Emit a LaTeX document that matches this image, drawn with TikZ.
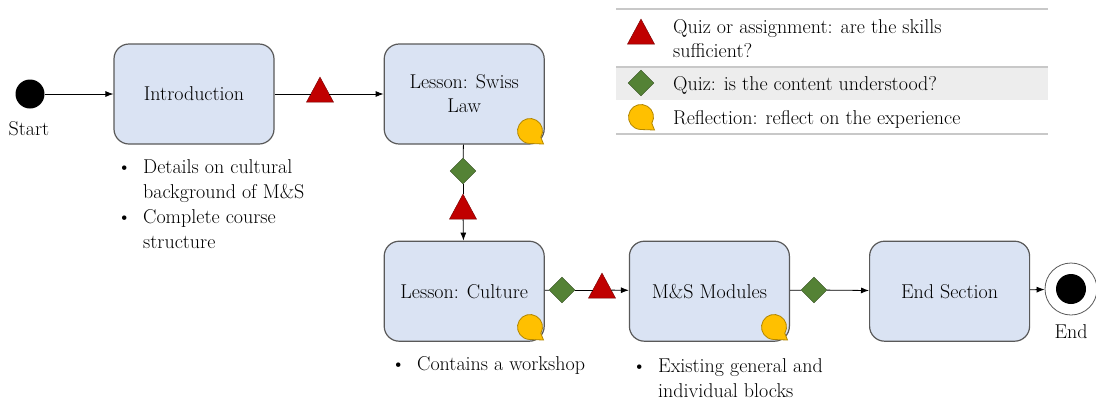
\documentclass[tikz,border=0pt]{standalone}
\usepackage{xcolor}
\usepackage{tikz}
\usetikzlibrary{shapes.geometric, arrows.meta, positioning}

\definecolor{boxblue}{HTML}{DAE3F3}
\definecolor{boxline}{HTML}{595959}
\definecolor{quizred}{HTML}{C00000}
\definecolor{quizgreen}{HTML}{548235}
\definecolor{reflyellow}{HTML}{FFC000}
\definecolor{legline}{HTML}{C8C8C8}
\definecolor{legfill}{HTML}{EDEDED}

\newcommand{\bul}{\makebox[26pt][l]{\textbullet}}

\tikzset{
  block/.style={rectangle, rounded corners=15pt, draw=boxline, line width=1.2pt, fill=boxblue, minimum width=160pt, minimum height=100pt, align=center},
  assign/.style={isosceles triangle, shape border rotate=90, isosceles triangle stretches, draw=quizred!60!black, fill=quizred, minimum width=27pt, minimum height=25pt, inner sep=0pt},
  check/.style={diamond, draw=quizgreen!60!black, fill=quizgreen, minimum width=26pt, minimum height=26pt, inner sep=0pt},
  flow/.style={-{Latex[length=8pt,width=6pt]}, line width=0.8pt},
  plain/.style={line width=0.8pt},
  reflect/.pic={\draw[draw=reflyellow!70!black, fill=reflyellow, line width=0.8pt] (-30:12.5pt) arc[start angle=-30, end angle=268, radius=12.5pt] -- (13.5pt,-13pt) -- cycle;},
  txt/.style={inner sep=0pt}
}

\begin{document}
\begin{tikzpicture}[x=1pt, y=-1pt, font=\fontsize{20}{24}\selectfont]
    \useasboundingbox (0,0) rectangle (1096,400);

    \fill[legfill] (616,67) rectangle (1048,100);
    \draw[legline, line width=1.5pt] (616,9) -- (1048,9);
    \draw[legline, line width=1.5pt] (616,67) -- (1048,67);
    \draw[legline, line width=1.5pt] (616,134) -- (1048,134);
    \node (legtri) [assign] at (641,36) {};
    \node (legdia) [check] at (641,83) {};
    \pic (legrefl) at (641,117) {reflect};
    \node (legtxt1) [txt, anchor=base west] at (673,33) {\begin{tabular}[t]{@{}l@{}}Quiz or assignment: are the skills\\sufficient?\end{tabular}};
    \node (legtxt2) [txt, anchor=base west] at (673,90) {Quiz: is the content understood?};
    \node (legtxt3) [txt, anchor=base west] at (673,124) {Reflection: reflect on the experience};

    \node (start) [circle, fill=black, minimum size=29pt, inner sep=0pt] at (30,94) {};
    \node (startlbl) [txt, anchor=base] at (29,135) {Start};

    \node (intro) [block] at (194,94) {Introduction};
    \node (swiss) [block, right=109pt of intro] {Lesson: Swiss\\Law};
    \node (culture) [block, below=96pt of swiss] {Lesson: Culture};
    \node (modules) [block, right=84pt of culture] {M\&S Modules};
    \node (endsec) [block, right=79pt of modules] {End Section};

    \node (endo) [circle, draw=boxline, line width=0.8pt, fill=white, minimum size=52pt, inner sep=0pt] at (1071,289) {};
    \node (endi) [circle, fill=black, minimum size=30pt, inner sep=0pt] at (endo) {};
    \node (endlbl) [txt, anchor=base] at (1071,338) {End};

    \node (tri1) [assign] at (320,94) {};
    \node (dia1) [check] at (463,171) {};
    \node (tri2) [assign] at (463,211) {};
    \node (dia2) [check] at (562,290) {};
    \node (tri3) [assign] at (602,290) {};
    \node (dia3) [check] at (814,290) {};

    \draw[flow] (start) -- (intro);
    \draw[plain] (intro) -- (tri1);
    \draw[flow] (tri1) -- (swiss);
    \draw[plain] (swiss) -- (dia1);
    \draw[plain] (dia1) -- (tri2);
    \draw[flow] (tri2) -- (culture);
    \draw[plain] (culture) -- (dia2);
    \draw[plain] (dia2) -- (tri3);
    \draw[flow] (tri3) -- (modules);
    \draw[plain] (modules) -- (dia3);
    \draw[flow] (dia3) -- (endsec);
    \draw[flow] (endsec) -- (endo);

    \pic (reflswiss) at (530,131) {reflect};
    \pic (reflculture) at (530,327) {reflect};
    \pic (reflmodules) at (774,327) {reflect};

    \node (introtxt) [txt, anchor=base west] at (117,173) {\fontsize{20}{25}\selectfont\begin{tabular}[t]{@{}l@{}}\bul Details on cultural\\\hspace{26pt}background of M\&S\\\bul Complete course\\\hspace{26pt}structure\end{tabular}};
    \node (culturetxt) [txt, anchor=base west] at (391,370) {\bul Contains a workshop};
    \node (modulestxt) [txt, anchor=base west] at (632,372) {\fontsize{20}{25}\selectfont\begin{tabular}[t]{@{}l@{}}\bul Existing general and\\\hspace{26pt}individual blocks\end{tabular}};
\end{tikzpicture}
\end{document}
